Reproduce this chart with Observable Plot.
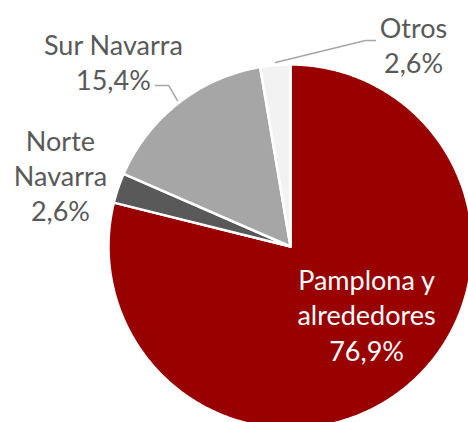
<!DOCTYPE html>
<html>
<head>
<meta charset="utf-8">
<script src="https://cdn.jsdelivr.net/npm/d3@7"></script>
<script src="https://cdn.jsdelivr.net/npm/@observablehq/plot@0.6"></script>
<style>
  html, body { margin: 0; padding: 0; background: #fff; }
  #chart svg { display: block; }
</style>
</head>
<body>
<div id="chart"></div>
<script>
// ---- data ----
const categories = ["Pamplona y alrededores", "Norte Navarra", "Sur Navarra", "Otros"];
const values = [76.9, 2.6, 15.4, 2.6];
const labelTexts = ["Pamplona y\nalrededores\n76,9%", "Norte\nNavarra\n2,6%", "Sur Navarra\n15,4%", "Otros\n2,6%"];

// ---- styling / layout (kept separate from data) ----
const colors = ["#990000", "#595959", "#A6A6A6", "#F2F2F2"];
const labelLayout = [
  {x: 0.418, y: -0.372, fill: "#ffffff"},
  {x: -1.264, y: 0.392, fill: "#595959"},
  {x: -0.973, y: 1.016, fill: "#595959"},
  {x: 0.676, y: 1.11, fill: "#595959"}
];
const leaders = [
  {cat: "Otros", pts: [[-0.082, 1.011], [0.412, 1.132], [0.467, 1.132]]},
  {cat: "Sur Navarra", pts: [[-0.742, 0.885], [-0.670, 0.885], [-0.621, 0.802]]}
];

// ---- pie geometry (unit circle, clockwise from 12 o'clock) ----
const arcs = d3.pie().sort(null).value(d => d)(values);
const wedgePts = [];
arcs.forEach((a, i) => {
  const cat = categories[i];
  wedgePts.push({cat, x: 0, y: 0});
  const n = Math.max(4, Math.ceil((a.endAngle - a.startAngle) / (Math.PI / 360)));
  for (let k = 0; k <= n; k++) {
    const t = a.startAngle + (a.endAngle - a.startAngle) * k / n;
    wedgePts.push({cat, x: Math.sin(t), y: Math.cos(t)});
  }
  wedgePts.push({cat, x: 0, y: 0});
});

const labels = categories.map((c, i) => ({cat: c, text: labelTexts[i], ...labelLayout[i]}));
const leaderPts = leaders.flatMap(l => l.pts.map(([x, y]) => ({cat: l.cat, x, y})));

const W = 468, H = 422, R = 182, CX = 290, CY = 246;

const chart = Plot.plot({
  width: W,
  height: H,
  margin: 0,
  x: {domain: [-CX / R, (W - CX) / R], axis: null},
  y: {domain: [-(H - CY) / R, CY / R], axis: null},
  color: {domain: categories, range: colors},
  style: {fontFamily: "Lato, 'Open Sans', sans-serif", background: "#fff"},
  marks: [
    Plot.line(wedgePts, {x: "x", y: "y", z: "cat", fill: "cat", stroke: "#ffffff", strokeWidth: 2.5, strokeLinejoin: "round", curve: "linear"}),
    Plot.line(leaderPts, {x: "x", y: "y", z: "cat", stroke: "#A6A6A6", strokeWidth: 1.5}),
    Plot.text(labels, {x: "x", y: "y", text: "text", fill: "fill", fontSize: 27, lineHeight: 1.3, textAnchor: "middle", lineAnchor: "middle"})
  ]
});
document.getElementById("chart").appendChild(chart);
</script>
</body>
</html>
